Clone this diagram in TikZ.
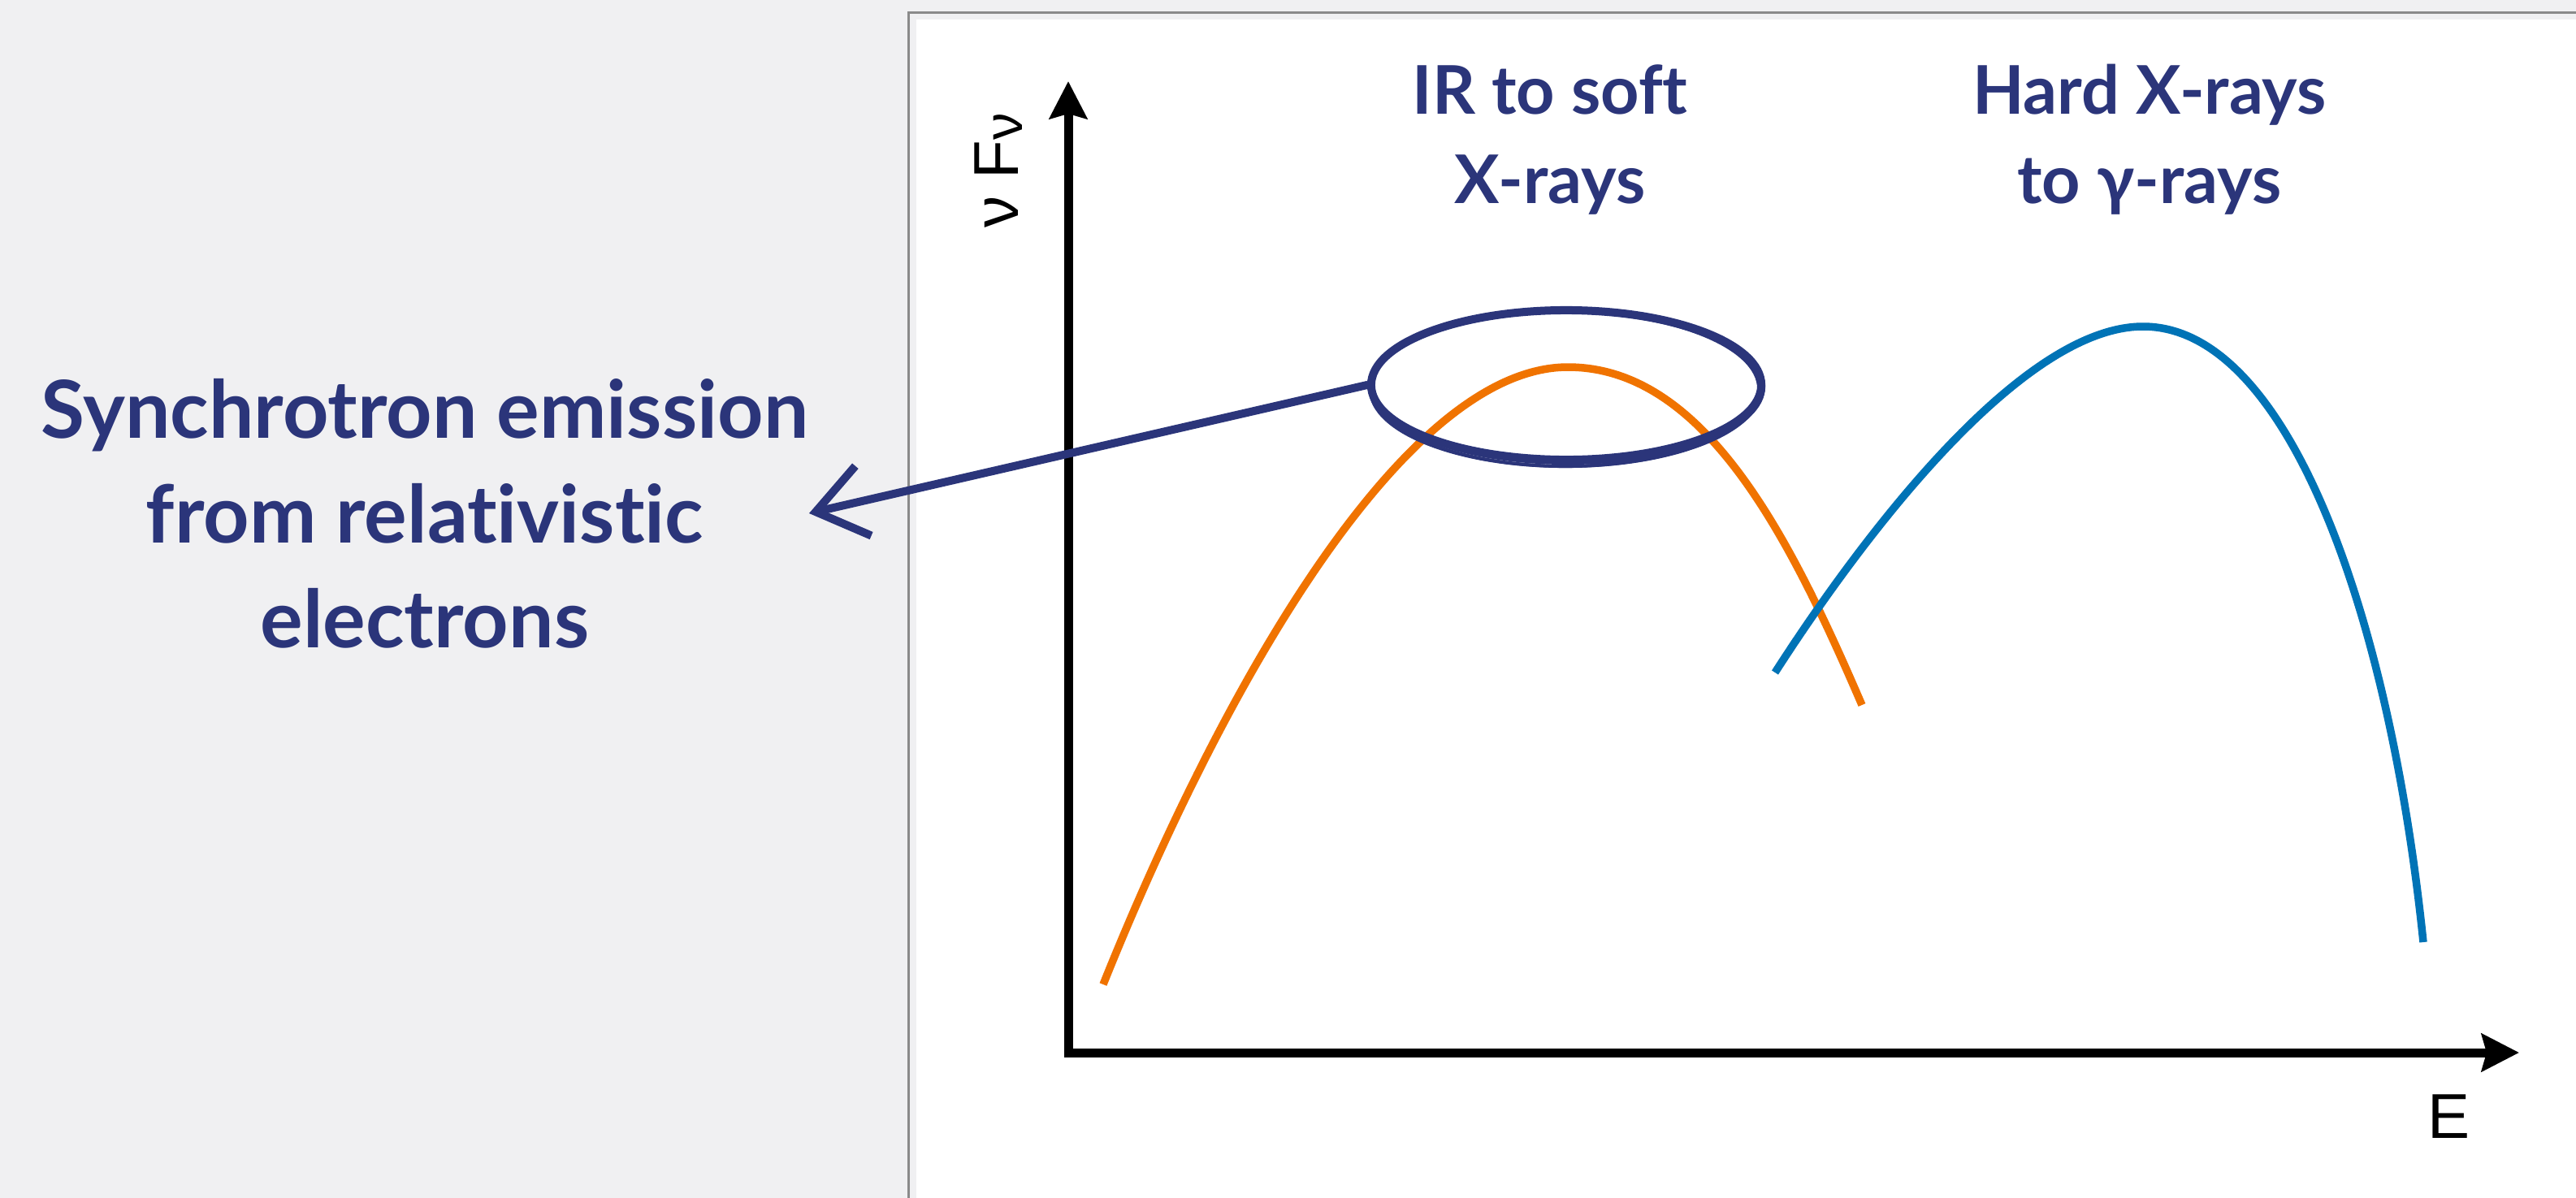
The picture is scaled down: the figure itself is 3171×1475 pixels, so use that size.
\documentclass[tikz,border=0pt]{standalone}
\usepackage{fontspec}
\setmainfont{Lato}[Ligatures={NoCommon}]
\newfontfamily\axisfont{Liberation Sans}
\usepackage{tikz}
\usetikzlibrary{positioning,shapes.geometric,arrows.meta,calc}
\definecolor{InkNavy}{RGB}{43,53,122}
\definecolor{SyncOrange}{RGB}{240,115,0}
\definecolor{ComptonBlue}{RGB}{0,115,182}
\definecolor{PageGray}{RGB}{240,240,242}
\definecolor{FrameGray}{RGB}{138,138,138}

\begin{document}
\begin{tikzpicture}[
  x=0.01cm, y=-0.01cm,
  bandtxt/.style={
    text=InkNavy, align=center, inner sep=0pt,
    font=\bfseries\fontsize{23.5}{31.3}\selectfont
  },
  notetxt/.style={
    text=InkNavy, align=center, inner sep=0pt,
    font=\bfseries\fontsize{28}{36.7}\selectfont
  },
  axistxt/.style={
    text=black, inner sep=0pt,
    font=\axisfont\fontsize{22.2}{26}\selectfont
  },
  hoop/.style={
    ellipse, draw=InkNavy, line width=0.1cm,
    minimum width=4.8cm, minimum height=1.84cm, inner sep=0pt
  },
  axisline/.style={
    draw=black, line width=0.11cm, line join=miter,
    {Stealth[length=0.46cm,width=0.46cm,inset=0.06cm]}-{Stealth[length=0.46cm,width=0.46cm,inset=0.06cm]}
  },
  spec/.style={line width=0.095cm},
  brush/.style={draw=InkNavy, line width=0.1cm, line cap=round,
    -{Straight Barb[length=0.6cm,width=0.88cm]}}
]

%% Page and panel
\useasboundingbox (0,0) rectangle (3171,1475);
\fill[PageGray] (0,0) rectangle (3171,1475);
\fill[white] (1128,24) rectangle (3171,1475);
\draw[FrameGray, line width=0.03cm] (1118.5,1475) |- (3171,15.5);

%% Axes
\coordinate (ytip) at (1315,100);
\coordinate (xtip) at (3101,1296);
\draw[axisline] (ytip) |- (xtip);
\node[axistxt, rotate=90, anchor=base] (ylab) at (1253,210)
  {ν F\raisebox{-0.05cm}{\fontsize{19}{19}\selectfont ν}};
\node[axistxt, anchor=base] (xlab) at (3015,1401) {E};

%% Spectral bumps
\draw[spec, SyncOrange] (1358,1212) .. controls (1507,841) and (1730,452) .. (1930,452)
  .. controls (2100,452) and (2205,666) .. (2292,868);
\draw[spec, ComptonBlue] (2185,828) .. controls (2293,660) and (2488,402) .. (2638,402)
  .. controls (2818,402) and (2942,762) .. (2983,1160);

%% Band labels
\node[bandtxt] (irsoft) at (1908,172) {IR to soft\\X-rays};
\node[bandtxt] (hardxg) at (2646,172) {Hard X-rays\\to γ-rays};

%% Hand-drawn ring and pointer
\node[hoop] (hoop) at (1928,474) {};
\foreach \dx/\dy/\rx/\ry in {0/4/2.40/0.96, 2/2/2.41/0.94, -2/5/2.39/0.95}
  \draw[InkNavy, line width=0.04cm] ($(hoop.center)+(\dx,\dy)$)
    ellipse [x radius=\rx cm, y radius=\ry cm];

\node[notetxt] (synclabel) at (523,632)
  {Synchrotron emission\\from relativistic\\electrons};
\draw[brush] (hoop.west) -- (synclabel.east);

\end{tikzpicture}
\end{document}
